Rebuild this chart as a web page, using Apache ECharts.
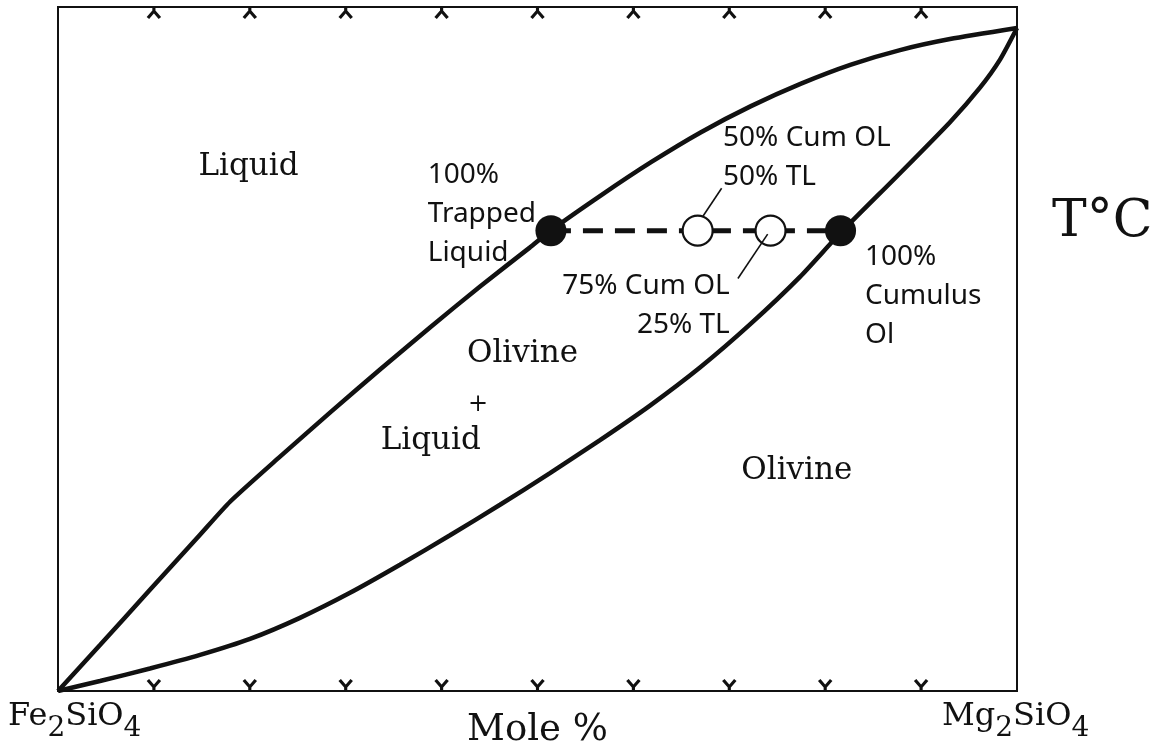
<!DOCTYPE html>
<html><head><meta charset="utf-8">
<script src="https://cdn.jsdelivr.net/npm/echarts@6/dist/echarts.min.js"></script>
<style>html,body{margin:0;padding:0;background:#fff}#c{width:1155px;height:747px}</style>
</head><body><div id="c"></div>
<script>
// ---- data (x: mole % Mg2SiO4, y: relative temperature 0-100) ----
const tickPositions = [10, 20, 30, 40, 50, 60, 70, 80, 90];
const liquidus = [[0,0],[4.38,6.73],[9.59,14.79],[14.81,22.84],[17.94,27.67],[23.15,34.26],[28.36,40.70],[33.58,47.00],[38.79,53.15],[44.01,59.15],[49.22,64.86],[51.41,67.35],[56.62,72.47],[61.84,77.31],[67.05,81.70],[72.26,85.51],[77.48,88.80],[82.69,91.58],[87.8,93.70],[93.01,95.31],[100,96.93]];
const solidus = [[0,0],[4.38,1.46],[9.59,3.29],[14.81,5.27],[20.02,7.61],[25.23,10.69],[30.45,14.35],[35.66,18.45],[40.88,22.77],[46.09,27.23],[51.30,31.84],[56.52,36.68],[61.73,41.73],[66.94,47.29],[72.16,53.59],[77.37,60.54],[81.65,67.06],[87.8,75.70],[93.01,83.16],[96.14,88.21],[98.23,92.31],[100,96.93]];
const tieLine = [[51.4, 67.3], [81.6, 67.3]];
const endMemberPoints = [[51.4, 67.3], [81.6, 67.3]];
const mixturePoints = [[66.7, 67.3], [74.3, 67.3]];
const leaderLines = [[[67.2, 69.3], [69.2, 73.5]], [[74.0, 66.8], [70.9, 60.3]]];
const fieldLabels = [['Liquid', 14.6, 76.6], ['Olivine', 42.6, 49.3], ['Liquid', 33.6, 36.6], ['Olivine', 71.2, 32.2]];
const plusLabels = [['+', 43.8, 41.9]];
const notesLeft = [['100%\nTrapped\nLiquid', 38.5, 69.8], ['50% Cum OL\n50% TL', 69.3, 78.0], ['100%\nCumulus\nOl', 84.1, 57.8]];
const notesRight = [['75% Cum OL\n25% TL', 70.1, 56.3]];
const xAxisTitle = 'Mole %';
const tempTitle = 'T°C';
const leftMember = ['Fe', '2', 'SiO', '4'];
const rightMember = ['Mg', '2', 'SiO', '4'];

// ---- chart ----
const INK = '#111';
const SERIF = 'DejaVu Serif';
const SANS = 'Noto Sans';
const chart = echarts.init(document.getElementById('c'), null, {renderer: 'canvas'});

function formula(parts) {
  return '{m|' + parts[0] + '}{s|' + parts[1] + '}{m|' + parts[2] + '}{s|' + parts[3] + '}';
}
const formulaRich = {
  m: {fontFamily: SERIF, fontSize: 32, fill: INK, color: INK},
  s: {fontFamily: SERIF, fontSize: 28, fill: INK, color: INK, padding: [24, 0, 0, 0]}
};

function labelSeries(items, font, size, position, align, lh) {
  return {
    type: 'scatter', symbol: 'circle', symbolSize: 1, silent: true, z: 6,
    itemStyle: {color: 'rgba(0,0,0,0)', opacity: 1},
    data: items.map(d => ({value: [d[1], d[2]], name: d[0]})),
    label: {
      show: true, position: position, distance: 0, formatter: p => p.name,
      fontFamily: font, fontSize: size, color: INK, align: align, verticalAlign: 'middle',
      lineHeight: lh
    }
  };
}

const chevronDown = 'path://M0,0 L6,7 L12,0 M6,7 L6,11';
const chevronUp = 'path://M6,0 L6,4 M0,11 L6,4 L12,11';

const option = {
  backgroundColor: '#fff',
  animation: false,
  grid: {left: 58, right: 138, top: 7, bottom: 56, outerBoundsMode: 'none', containLabel: false, show: true, borderColor: INK, borderWidth: 2, backgroundColor: 'transparent'},
  xAxis: {
    type: 'value', min: 0, max: 100, interval: 10,
    axisLine: {show: false}, axisTick: {show: false}, splitLine: {show: false}, axisLabel: {show: false},
    name: xAxisTitle, nameLocation: 'middle', nameGap: 21,
    nameTextStyle: {fontFamily: SERIF, fontSize: 37, color: INK, verticalAlign: 'top'}
  },
  yAxis: {
    type: 'value', min: 0, max: 100, interval: 10,
    axisLine: {show: false}, axisTick: {show: false}, splitLine: {show: false}, axisLabel: {show: false}
  },
  graphic: [
    {type: 'text', left: 8, top: 701, style: {text: formula(leftMember), rich: formulaRich, fill: INK}},
    {type: 'text', left: 942, top: 701, style: {text: formula(rightMember), rich: formulaRich, fill: INK}},
    {type: 'text', left: 1052, top: 196, style: {text: tempTitle, fontFamily: SERIF, fontSize: 52, fill: INK}}
  ],
  series: [
    {type: 'line', data: liquidus, smooth: 0.2, symbol: 'none', lineStyle: {color: INK, width: 4.5}, z: 2},
    {type: 'line', data: solidus, smooth: 0.2, symbol: 'none', lineStyle: {color: INK, width: 4.5}, z: 2},
    {type: 'line', data: tieLine, symbol: 'none', lineStyle: {color: INK, width: 5, type: [20, 12], cap: 'butt'}, z: 2},
    {type: 'scatter', data: mixturePoints, symbol: 'circle', symbolSize: 30, itemStyle: {color: '#fff', opacity: 1, borderColor: INK, borderWidth: 2.2}, z: 4},
    {type: 'scatter', data: endMemberPoints, symbol: 'circle', symbolSize: 31, itemStyle: {color: INK, opacity: 1}, z: 4},
    ...leaderLines.map(seg => ({type: 'line', data: seg, symbol: 'none', lineStyle: {color: INK, width: 1.6}, z: 5})),
    {type: 'scatter', data: tickPositions.map(v => [v, 0]), symbol: chevronDown, symbolSize: [12, 11], symbolOffset: [0, -5.5], itemStyle: {color: 'none', opacity: 1, borderColor: INK, borderWidth: 3}, z: 4},
    {type: 'scatter', data: tickPositions.map(v => [v, 100]), symbol: chevronUp, symbolSize: [12, 11], symbolOffset: [0, 5.5], itemStyle: {color: 'none', opacity: 1, borderColor: INK, borderWidth: 3}, z: 4},
    labelSeries(fieldLabels, SERIF, 31, 'right', 'left', 38),
    labelSeries(plusLabels, SERIF, 24, 'inside', 'center', 24),
    labelSeries(notesLeft, SANS, 28, 'right', 'left', 39),
    labelSeries(notesRight, SANS, 28, 'left', 'right', 39)
  ]
};
chart.setOption(option);
</script></body></html>
